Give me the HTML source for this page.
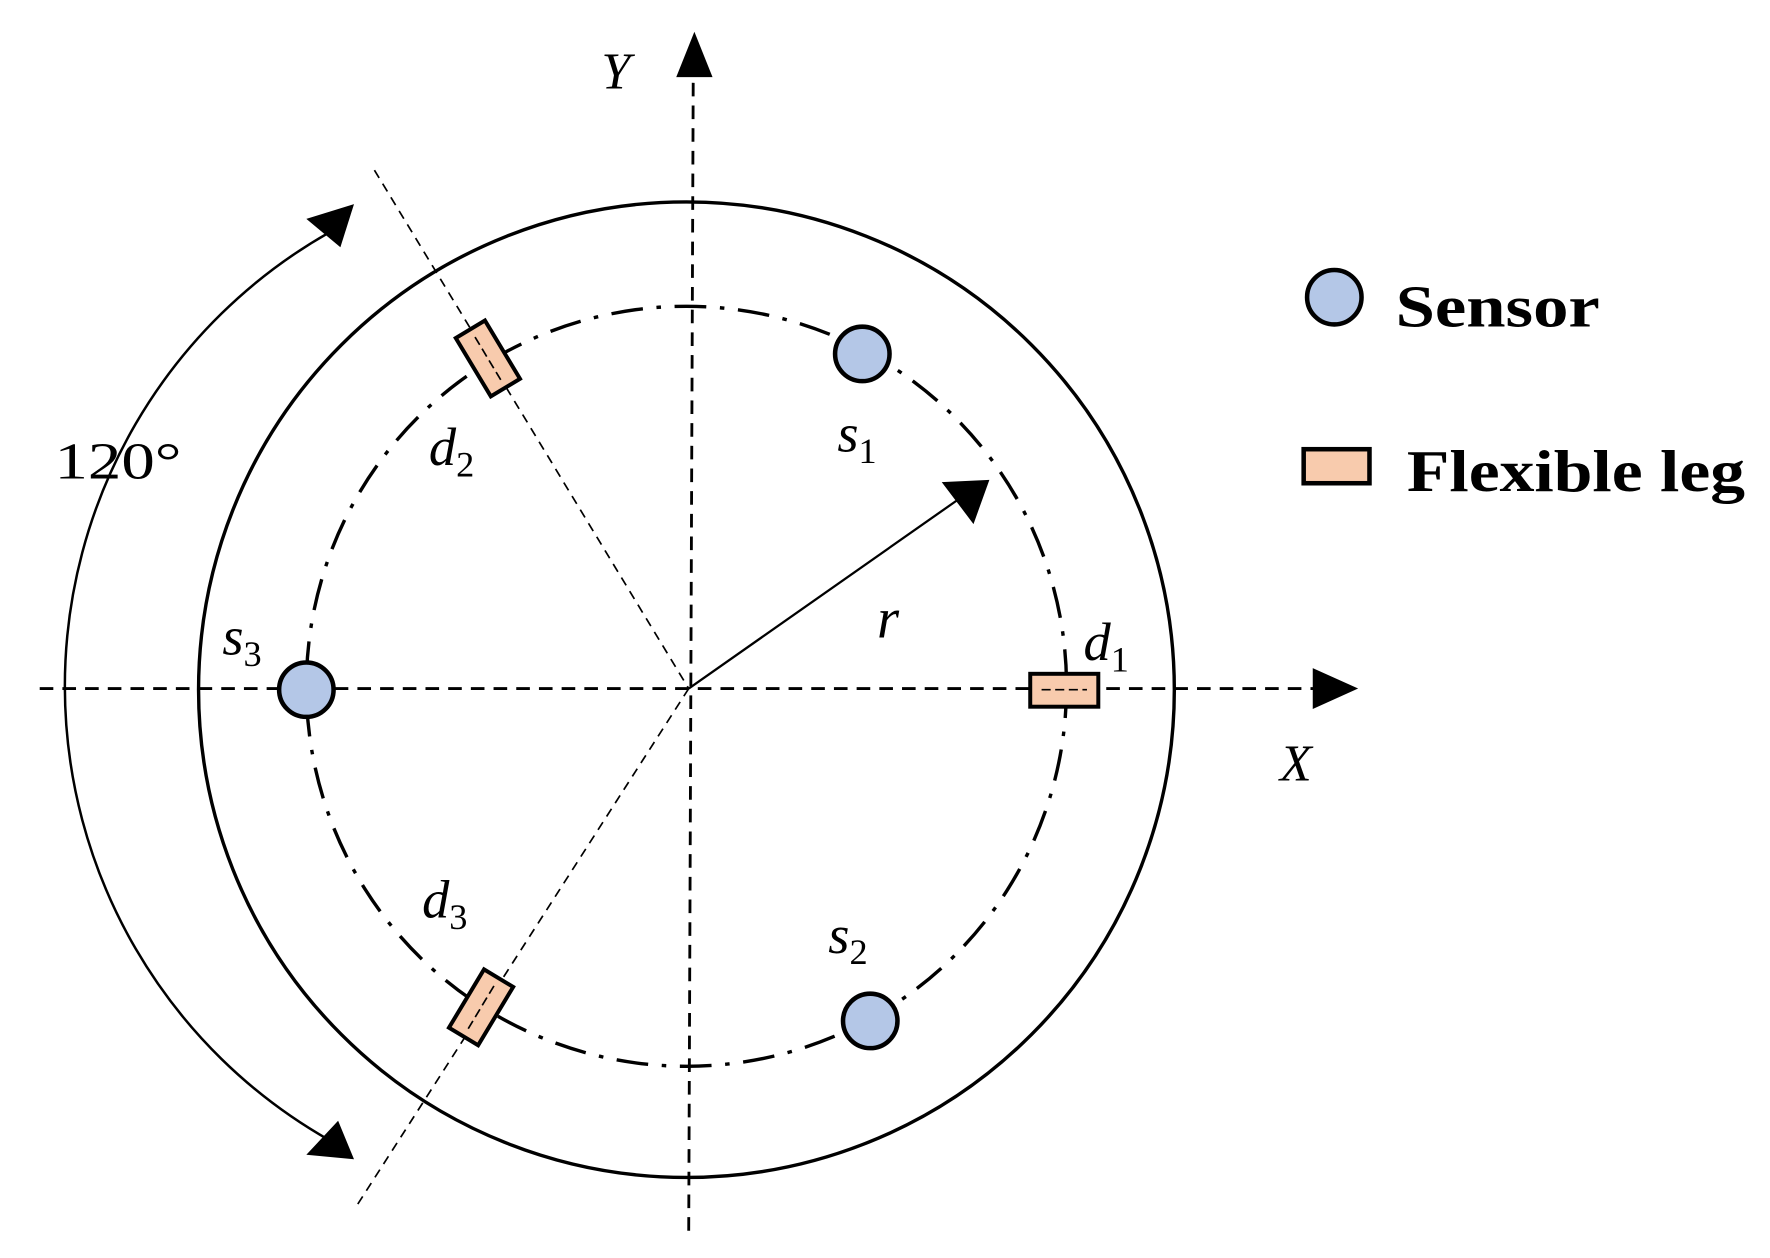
<!DOCTYPE html>
<html><head><meta charset="utf-8"><style>html,body{margin:0;padding:0;background:#fff}svg{display:block}</style></head>
<body>
<svg width="1770" height="1258" viewBox="0 0 1560 1109" preserveAspectRatio="none" xmlns="http://www.w3.org/2000/svg">
<g font-family="Liberation Serif, serif" font-style="italic" fill="#000">
<circle cx="605" cy="608" r="430" fill="none" stroke="#000" stroke-width="3"/>
<circle cx="605" cy="605" r="335" fill="none" stroke="#000" stroke-width="3" stroke-dasharray="28 12 4 12"/>
<line x1="607" y1="1085" x2="611" y2="62" stroke="#000" stroke-width="2.5" stroke-dasharray="12 8"/>
<path d="M596,68 L628,68 L612,28 z" fill="#000"/>
<line x1="35" y1="607" x2="1162" y2="607" stroke="#000" stroke-width="2.5" stroke-dasharray="12 8"/>
<path d="M1157,589 L1157,625 L1197,607 z" fill="#000"/>
<line x1="330" y1="150" x2="607" y2="607" stroke="#000" stroke-width="1.5" stroke-dasharray="8 6"/>
<line x1="607" y1="607" x2="315" y2="1062" stroke="#000" stroke-width="1.5" stroke-dasharray="8 6"/>
<line x1="607" y1="607" x2="845" y2="440" stroke="#000" stroke-width="2"/>
<path d="M830,425 L858,462 L872,423 z" fill="#000"/>
<path d="M290,205 A460 460 0 0 0 290,1005" fill="none" stroke="#000" stroke-width="2.2"/>
<path d="M270,193 L300,218 L312,180 z" fill="#000"/>
<path d="M270,1018 L312,1022 L298,988 z" fill="#000"/>
<circle cx="760" cy="312" r="24" fill="#b4c7e7" stroke="#000" stroke-width="4"/>
<circle cx="767" cy="900" r="24" fill="#b4c7e7" stroke="#000" stroke-width="4"/>
<circle cx="270" cy="608" r="24" fill="#b4c7e7" stroke="#000" stroke-width="4"/>
<rect x="908" y="594" width="60" height="29" fill="#f8cbad" stroke="#000" stroke-width="3.5"/>
<line x1="918" y1="608" x2="958" y2="608" stroke="#000" stroke-width="1.5" stroke-dasharray="8 4"/>
<g transform="translate(430,316) rotate(-31)"><rect x="-15" y="-30" width="30" height="60" fill="#f8cbad" stroke="#000" stroke-width="3.5"/><line x1="0" y1="-22" x2="0" y2="22" stroke="#000" stroke-width="1.5" stroke-dasharray="8 4"/></g>
<g transform="translate(424,888) rotate(31)"><rect x="-15" y="-30" width="30" height="60" fill="#f8cbad" stroke="#000" stroke-width="3.5"/><line x1="0" y1="-22" x2="0" y2="22" stroke="#000" stroke-width="1.5" stroke-dasharray="8 4"/></g>
<text x="530" y="78" font-size="46">Y</text>
<text x="1128" y="688" font-size="46">X</text>
<text x="48" y="422" font-size="46" font-style="normal" textLength="112" lengthAdjust="spacingAndGlyphs">120°</text>
<text x="378" y="410" font-size="48">d<tspan font-size="32" font-style="normal" dy="10">2</tspan></text>
<text x="738" y="398" font-size="48">s<tspan font-size="32" font-style="normal" dy="10">1</tspan></text>
<text x="773" y="562" font-size="50">r</text>
<text x="955" y="582" font-size="48">d<tspan font-size="32" font-style="normal" dy="10">1</tspan></text>
<text x="196" y="577" font-size="48">s<tspan font-size="32" font-style="normal" dy="10">3</tspan></text>
<text x="372" y="809" font-size="48">d<tspan font-size="32" font-style="normal" dy="10">3</tspan></text>
<text x="730" y="840" font-size="48">s<tspan font-size="32" font-style="normal" dy="10">2</tspan></text>
<circle cx="1176" cy="262" r="24" fill="#b4c7e7" stroke="#000" stroke-width="4"/>
<text x="1230" y="288" font-size="52" font-style="normal" font-weight="bold" textLength="180" lengthAdjust="spacingAndGlyphs">Sensor</text>
<rect x="1149" y="396" width="58" height="30" fill="#f8cbad" stroke="#000" stroke-width="4"/>
<text x="1240" y="433" font-size="52" font-style="normal" font-weight="bold" textLength="298" lengthAdjust="spacingAndGlyphs">Flexible leg</text>
</g>
</svg>
</body></html>
